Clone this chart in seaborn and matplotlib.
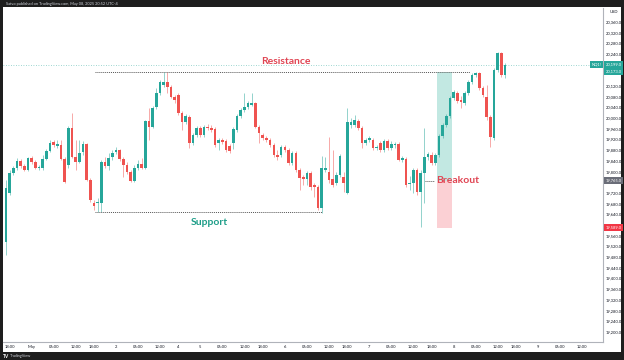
import numpy as np
import pandas as pd
import matplotlib.pyplot as plt
import seaborn as sns
from matplotlib.patches import Rectangle

sns.set_theme(style="white")
plt.rcParams['font.family'] = ['Lato', 'DejaVu Sans']

# hourly candles, NQ futures, Apr 30 16:00 -> May 8 14:00 (UTC-4)
opens = [19536, 19720, 19795, 19814, 19840, 19821, 19806, 19851, 19836, 19814,
         19814, 19847, 19877, 19911, 19896, 19900, 19847, 19825, 19963, 19855,
         19836, 19874, 19904, 19769, 19683, 19683, 19683, 19836, 19821, 19855,
         19874, 19881, 19847, 19825, 19799, 19765, 19814, 19829, 19814, 19989,
         19967, 20042, 20094, 20124, 20135, 20117, 20079, 20087, 20019, 19986,
         20004, 19907, 19937, 19963, 19937, 19967, 19963, 19960, 19907, 19918,
         19915, 19896, 19907, 19956, 20008, 20031, 20042, 20049, 20057, 19967,
         19937, 19926, 19918, 19900, 19862, 19862, 19892, 19881, 19833, 19870,
         19806, 19780, 19773, 19795, 19750, 19743, 19664, 19806, 19799, 19773,
         19758, 19788, 19780, 19720, 19974, 19974, 19989, 19963, 19907, 19918,
         19918, 19889, 19907, 19881, 19915, 19889, 19900, 19904, 19844, 19847,
         19754, 19758, 19806, 19724, 19795, 19855, 19862, 19833, 19862, 19933,
         19974, 20008, 20075, 20094, 20068, 20057, 20094, 20135, 20162, 20169,
         20113, 20079, 20004, 19926, 20180, 20244, 20162]
highs = [19768, 19806, 19821, 19851, 19847, 19829, 19855, 19859, 19844, 19825,
         19862, 19885, 19918, 19918, 19918, 19918, 19855, 19971, 20019, 19918,
         19918, 19915, 19907, 19777, 19694, 19702, 19844, 19855, 19870, 19881,
         19892, 19885, 19855, 19836, 19806, 19825, 19844, 19851, 19993, 20038,
         20046, 20113, 20143, 20173, 20173, 20124, 20087, 20094, 20027, 20016,
         20012, 19945, 19971, 19971, 19974, 19978, 19974, 19967, 19926, 19926,
         19922, 19904, 19967, 20016, 20038, 20094, 20064, 20094, 20061, 19974,
         19945, 19933, 19926, 19907, 19881, 19900, 19900, 19889, 19877, 19877,
         19814, 19788, 19803, 19803, 19758, 19750, 19859, 19855, 19930, 19881,
         19799, 19866, 19799, 20038, 20001, 20012, 19997, 19971, 19926, 19933,
         19926, 19900, 19915, 19922, 19922, 19915, 19911, 19911, 19859, 19855,
         19784, 19814, 19814, 19806, 19963, 19874, 19874, 19870, 19941, 19982,
         20016, 20083, 20105, 20102, 20083, 20102, 20143, 20169, 20173, 20173,
         20120, 20124, 20012, 20188, 20248, 20248, 20206]
lows = [19488, 19713, 19788, 19806, 19814, 19803, 19803, 19829, 19810, 19806,
        19806, 19844, 19874, 19892, 19889, 19844, 19758, 19814, 19851, 19806,
        19833, 19862, 19765, 19687, 19657, 19649, 19649, 19814, 19806, 19844,
        19866, 19840, 19780, 19791, 19762, 19762, 19806, 19810, 19810, 19918,
        19963, 20034, 20087, 20117, 20094, 20075, 20057, 20012, 19956, 19978,
        19889, 19900, 19930, 19930, 19930, 19956, 19948, 19892, 19881, 19904,
        19874, 19870, 19885, 19948, 20001, 20023, 20034, 20046, 19963, 19907,
        19918, 19911, 19892, 19855, 19844, 19855, 19874, 19825, 19825, 19799,
        19732, 19750, 19750, 19732, 19705, 19657, 19646, 19799, 19758, 19743,
        19750, 19780, 19724, 19717, 19963, 19967, 19956, 19889, 19900, 19911,
        19881, 19881, 19874, 19874, 19881, 19881, 19889, 19840, 19836, 19743,
        19732, 19720, 19713, 19593, 19683, 19844, 19825, 19825, 19855, 19926,
        19967, 20001, 20068, 20057, 20038, 20049, 20087, 20128, 20154, 20105,
        20079, 19993, 19892, 19918, 20173, 20154, 20150]
closes = [19739, 19795, 19814, 19840, 19821, 19806, 19851, 19836, 19814, 19818,
          19847, 19877, 19907, 19900, 19904, 19847, 19762, 19963, 19855, 19836,
          19870, 19904, 19769, 19694, 19672, 19687, 19836, 19821, 19851, 19870,
          19881, 19847, 19825, 19799, 19765, 19814, 19829, 19814, 19989, 19967,
          20038, 20094, 20135, 20135, 20117, 20079, 20068, 20019, 19986, 20008,
          19907, 19937, 19963, 19937, 19967, 19963, 19956, 19900, 19918, 19911,
          19881, 19877, 19960, 20008, 20031, 20042, 20057, 20057, 19967, 19945,
          19926, 19918, 19900, 19862, 19855, 19892, 19881, 19833, 19870, 19806,
          19777, 19773, 19795, 19743, 19743, 19664, 19814, 19814, 19769, 19750,
          19788, 19859, 19758, 19986, 19986, 19993, 19963, 19907, 19918, 19926,
          19889, 19892, 19881, 19915, 19889, 19904, 19904, 19844, 19851, 19750,
          19758, 19806, 19724, 19795, 19855, 19866, 19833, 19862, 19933, 19974,
          20008, 20075, 20098, 20064, 20061, 20094, 20135, 20162, 20169, 20113,
          20087, 20004, 19930, 20180, 20244, 20162, 20199]

resistance = 20173
support = 19649
entry = 19765
stop = 19589
last_price = 20199

GREEN = "#26a69a"
RED = "#ef5350"

# CME session: 17:00 break, closed Fri 17:00 -> Sun 18:00
hours = pd.date_range("2025-04-30 16:00", "2025-05-09 23:00", freq="h")
keep = (hours.hour != 17) & ~((hours.dayofweek == 4) & (hours.hour >= 17)) \
    & (hours.dayofweek != 5) & ~((hours.dayofweek == 6) & (hours.hour < 18))
hours = hours[keep]

xticks, xlabels = [], []
for i, t in enumerate(hours):
    if i > 0 and t.date() != hours[i - 1].date():
        xticks.append(i)
        xlabels.append("May" if t.day == 1 else str(t.day))
    elif t.hour in (6, 12, 18):
        xticks.append(i)
        xlabels.append(t.strftime("%H:00"))

fig = plt.figure(figsize=(6.24, 3.6), dpi=100, facecolor="#1e1e1e")
fig.patches.append(Rectangle((3 / 624, 8 / 360), 618 / 624, 345 / 360,
                             transform=fig.transFigure, fc="white", ec="none", zorder=-1))
ax = fig.add_axes([3 / 624, 18 / 360, 600 / 624, 334 / 360])
ax.set_facecolor("white")

x = np.arange(len(opens))
o = np.array(opens)
c = np.array(closes)
colors = np.where(c >= o, GREEN, RED)

# long position box
ax.add_patch(Rectangle((117.4, entry), 4.1, resistance - entry, fc="#c2e8e2", ec="none", zorder=0))
ax.add_patch(Rectangle((117.4, stop), 4.1, entry - stop, fc="#fbd0d4", ec="none", zorder=0))

ax.vlines(x, lows, highs, colors=colors, lw=0.7, alpha=0.5, zorder=2)
ax.bar(x, np.maximum(np.abs(c - o), 2.5), bottom=np.minimum(o, c), width=0.72,
       color=colors, lw=0, zorder=3)

ax.axhline(last_price, color=GREEN, ls=(0, (1, 2)), lw=0.6, alpha=0.6, zorder=1)
ax.plot([24.3, 126.4], [resistance, resistance], ls=(0, (1, 1)), color="#555555", lw=0.7)
ax.plot([24.3, 86.1], [support, support], ls=(0, (1, 1)), color="#555555", lw=0.7)
ax.plot([114.2, 116.6], [entry, entry], ls=(0, (1, 1)), color="#555555", lw=0.7)

ax.text(76.3, 20210, "Resistance", color="#e04553", fontsize=7.5, fontweight="bold",
        ha="center", va="center")
ax.text(55.3, 19611, "Support", color="#1f9e89", fontsize=7.5, fontweight="bold",
        ha="center", va="center")
ax.text(117.2, entry, "Breakout", color="#e04553", fontsize=7.5, fontweight="bold",
        ha="left", va="center")

ax.set_xlim(-0.8, 162.7)
ax.set_ylim(19162, 20412)

yt = [v for v in np.arange(19200, 20361, 40) if v not in (20200, 20160, 19760, 19600)]
ax.yaxis.tick_right()
ax.set_yticks(yt)
ax.set_yticklabels([f"{v:,.1f}" for v in yt])
ax.set_xticks(xticks)
ax.set_xticklabels(xlabels)
ax.tick_params(axis="both", length=0, labelsize=3, labelcolor="#131722", pad=2)
for s in ("top", "left"):
    ax.spines[s].set_visible(False)
for s in ("right", "bottom"):
    ax.spines[s].set_color("#b0b3ba")
    ax.spines[s].set_linewidth(0.8)

ytr = ax.get_yaxis_transform()
for val, fc in [(last_price, GREEN), (resistance, GREEN), (entry, "#6a6d78"), (stop, "#f23645")]:
    ax.text(1.004, val, f"{val:,.1f}", transform=ytr, fontsize=3, color="white",
            ha="left", va="center", clip_on=False,
            bbox=dict(boxstyle="square,pad=0.35", fc=fc, ec="none"))
ax.text(0.998, last_price, "NQ1!", transform=ytr, fontsize=3, color="white",
        ha="right", va="center", clip_on=False,
        bbox=dict(boxstyle="square,pad=0.35", fc=GREEN, ec="none"))

fig.text(610 / 624, 1 - 12 / 360, "USD", fontsize=3, color="#131722", ha="left", va="center")
fig.text(6 / 624, 1 - 3.5 / 360, "Satvo published on TradingView.com, May 08, 2025 20:52 UTC-4",
         fontsize=2.8, color="#d1d4dc", va="center")
fig.text(3 / 624, 4 / 360, "TV", fontsize=3.5, fontweight="bold", color="white", va="center")
fig.text(10 / 624, 4 / 360, "TradingView", fontsize=2.8, color="#d1d4dc", va="center")

fig.savefig("out.png", dpi=100, facecolor=fig.get_facecolor())
